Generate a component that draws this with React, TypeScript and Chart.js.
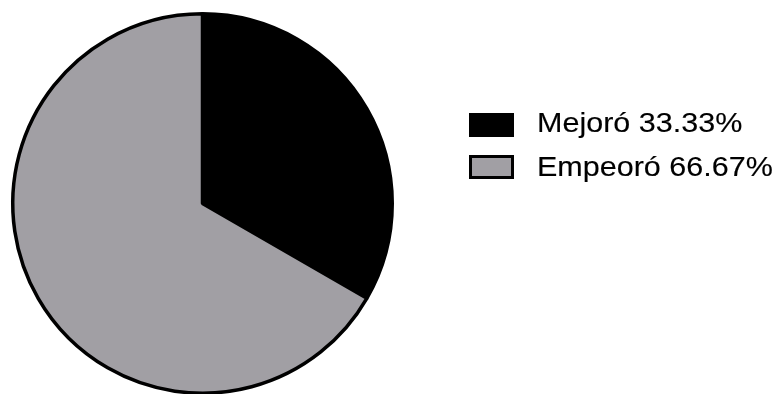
import React, { useEffect, useRef } from "react";
import { Chart, registerables } from "chart.js";

Chart.register(...registerables);

const categories = ["Mejoró", "Empeoró"];
const values = [33.33, 66.67];
const colors = ["#000000", "#a19fa4"];
const legendLabels = ["Mejoró 33.33%", "Empeoró 66.67%"];

export default function App() {
  const ref = useRef<HTMLCanvasElement | null>(null);

  useEffect(() => {
    document.body.style.margin = "0";
    const canvas = ref.current;
    if (!canvas) return;
    const chart = new Chart(canvas, {
      type: "pie",
      data: {
        labels: categories,
        datasets: [
          {
            data: values,
            backgroundColor: colors,
            borderColor: "#000000",
            borderWidth: 3.5,
          },
        ],
      },
      options: {
        responsive: false,
        animation: false,
        layout: { padding: { left: 11, top: 12, right: 386, bottom: 9 } },
        plugins: {
          legend: { display: false },
          tooltip: { enabled: false },
        },
      },
    });
    return () => chart.destroy();
  }, []);

  const textStyle: React.CSSProperties = {
    position: "absolute",
    left: 537,
    fontFamily: "'Liberation Sans', Arial, sans-serif",
    fontSize: 28,
    lineHeight: "28px",
    color: "#000",
    whiteSpace: "nowrap",
    transform: "scaleX(1.09)",
    transformOrigin: "left center",
    WebkitTextStroke: "0.15px #000",
  };

  return (
    <div style={{ position: "relative", width: 780, height: 394, overflow: "hidden", background: "#fff" }}>
      <canvas ref={ref} width={780} height={404} style={{ position: "absolute", left: 0, top: 0 }} />
      {legendLabels.map((lab, i) => (
        <React.Fragment key={lab}>
          <div
            style={{
              position: "absolute",
              left: 469,
              top: 113 + i * 42,
              width: 45,
              height: 24,
              boxSizing: "border-box",
              background: colors[i],
              border: "3px solid #000",
            }}
          />
          <div style={{ ...textStyle, top: 109 + i * 44 }}>{lab}</div>
        </React.Fragment>
      ))}
    </div>
  );
}
